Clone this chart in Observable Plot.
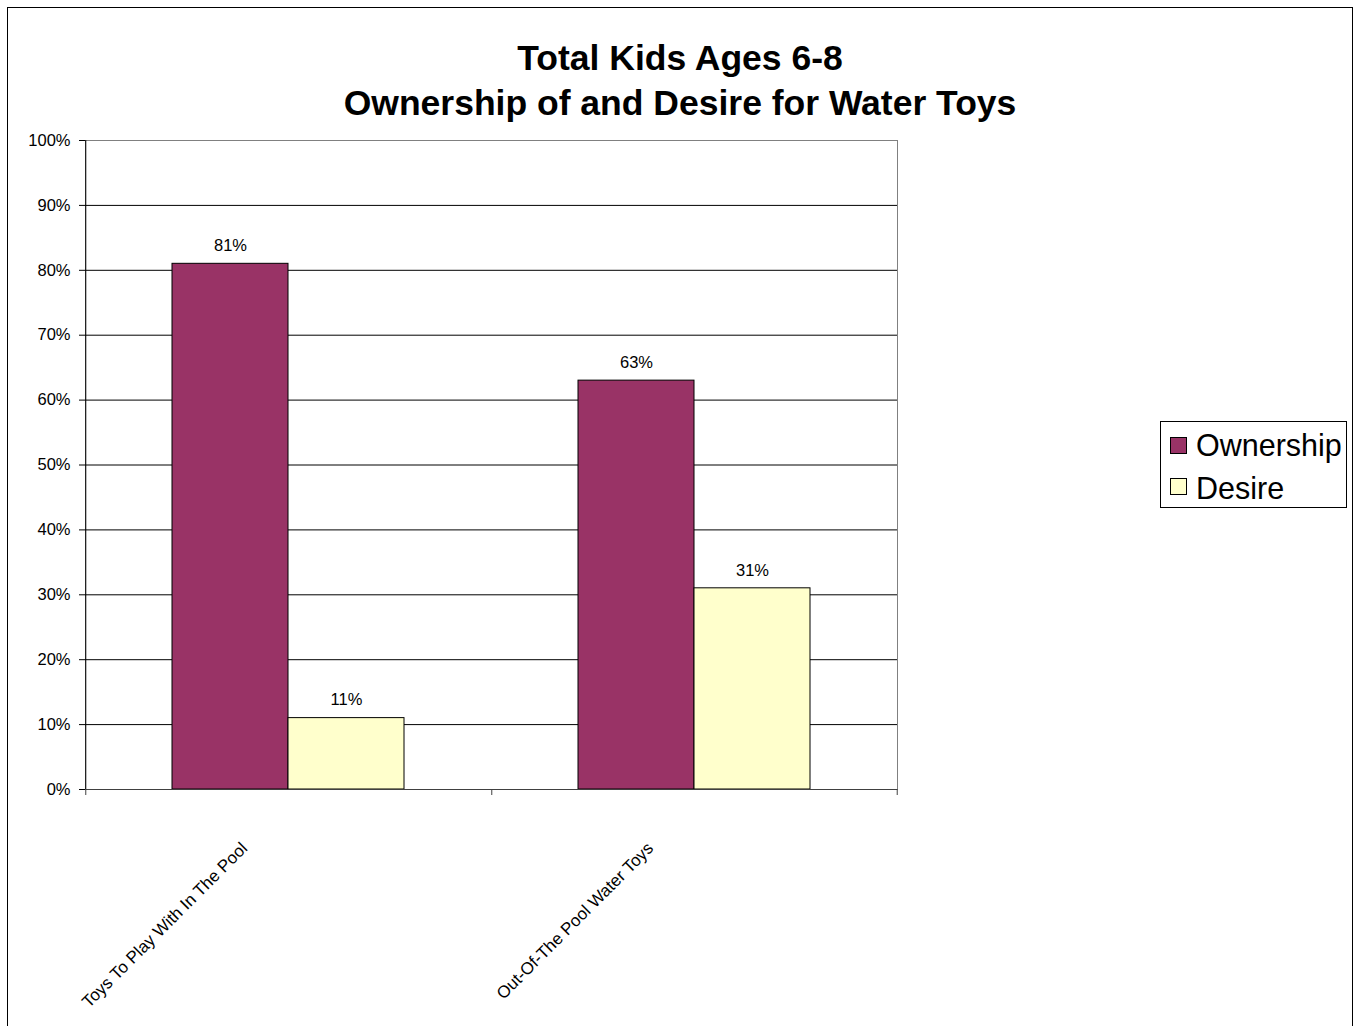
<!DOCTYPE html>
<html>
<head>
<meta charset="utf-8">
<script src="https://cdn.jsdelivr.net/npm/d3@7"></script>
<script src="https://cdn.jsdelivr.net/npm/@observablehq/plot@0.6"></script>
<style>
  body { margin: 0; background: #fff; font-family: "Liberation Sans", Arial, sans-serif; }
  #border { position: absolute; left: 7px; top: 7px; width: 1344px; height: 1030px; border: 1px solid #000; }
  .title { position: absolute; left: 7px; width: 1346px; text-align: center; font-weight: bold; font-size: 35.5px; line-height: 45px; color: #000; white-space: nowrap; }
  #chart { position: absolute; left: 0; top: 125px; }
  #legend { position: absolute; left: 1160px; top: 421px; width: 185px; height: 85px; border: 1px solid #000; background: #fff; }
  .sw { position: absolute; left: 9px; width: 15px; height: 15px; border: 1px solid #000; }
  .lt { position: absolute; left: 35px; font-size: 30.5px; line-height: 34px; white-space: nowrap; color: #000; }
</style>
</head>
<body>
<div id="border"></div>
<div class="title" style="top:36px">Total Kids Ages 6-8</div>
<div class="title" style="top:81px">Ownership of and Desire for Water Toys</div>
<div id="chart"></div>
<div id="legend"></div>
<script>
const categories = ["Toys To Play With In The Pool", "Out-Of-The Pool Water Toys"];
const series = ["Ownership", "Desire"];
const ownership = [0.81, 0.63];
const desire = [0.11, 0.31];
const seriesColors = ["#993366", "#FFFFCC"];
const yTicks = [0, 0.1, 0.2, 0.3, 0.4, 0.5, 0.6, 0.7, 0.8, 0.9, 1.0];

const values = [ownership, desire];
const rows = categories.flatMap((c, i) => series.map((s, j) => ({category: c, series: s, value: values[j][i]})));
const pct = d3.format(".0%");

const W = 920, H = 901, ML = 85, MR = 23, MT = 15, MB = 237;
const pOuter = 0.742;
const facetW = (W - ML - MR) / categories.length;
const step = facetW / (series.length + 2 * pOuter);
const edge = pOuter * step + step / 2;

const plot = Plot.plot({
  width: W, height: H,
  marginLeft: ML, marginRight: MR, marginTop: MT, marginBottom: MB,
  style: {fontFamily: '"Liberation Sans", Arial, sans-serif', fontSize: "16px", color: "#000", background: "transparent", overflow: "visible"},
  fx: {domain: categories, padding: 0, label: null},
  x: {domain: series, paddingInner: 0, paddingOuter: pOuter, axis: null},
  y: {domain: [0, 1], label: null},
  color: {domain: series, range: seriesColors},
  marks: [
    Plot.frame({facet: "super", stroke: "#808080"}),
    Plot.ruleY(yTicks.slice(1, -1), {stroke: "#000"}),
    Plot.barY(rows, {fx: "category", x: "series", y: "value", fill: "series", stroke: "#000", strokeWidth: 1}),
    Plot.ruleY([0], {stroke: "#404040"}),
    Plot.ruleX([categories[0]], {fx: d => d, x: () => series[0], dx: -edge, y1: 0, y2: 1, stroke: "#000"}),
    Plot.ruleX(categories, {fx: d => d, x: () => series[0], dx: -edge, y1: 0, y2: 0, insetBottom: -6, stroke: "#404040"}),
    Plot.ruleX([categories[categories.length - 1]], {fx: d => d, x: () => series[series.length - 1], dx: edge, y1: 0, y2: 0, insetBottom: -6, stroke: "#404040"}),
    Plot.text(rows, {fx: "category", x: "series", y: "value", text: d => pct(d.value), dy: -18, fontSize: 16.5, fill: "#000"}),
    Plot.axisY({ticks: yTicks, tickFormat: pct, tickSize: 6, tickPadding: 9, fontSize: 16.5, label: null}),
    Plot.axisFx({anchor: "bottom", tickRotate: -45, tickSize: 0, tickPadding: 0, dx: -44, dy: 56, fontSize: 17, label: null})
  ]
});
document.getElementById("chart").appendChild(plot);

const legend = document.getElementById("legend");
const swTops = [15, 56];
const txtTops = [6, 49];
series.forEach((s, i) => {
  const sw = document.createElement("div");
  sw.className = "sw";
  sw.style.top = swTops[i] + "px";
  sw.style.background = seriesColors[i];
  legend.appendChild(sw);
  const t = document.createElement("div");
  t.className = "lt";
  t.style.top = txtTops[i] + "px";
  t.textContent = s;
  legend.appendChild(t);
});
</script>
</body>
</html>
